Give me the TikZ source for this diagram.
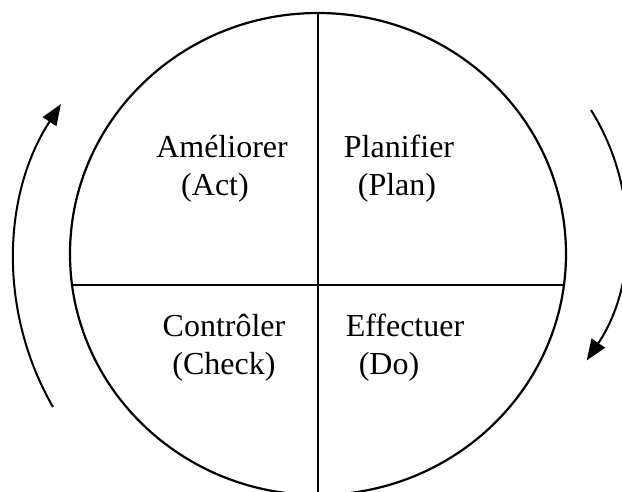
\documentclass[tikz,border=0pt]{standalone}
\usepackage{fontspec}
\setmainfont{Liberation Serif}
\usetikzlibrary{arrows.meta}
\tikzset{
  ring/.style={line width=2.2pt},
  divider/.style={line width=2pt},
  cyclearrow/.style={line width=2pt,-{Triangle[length=21pt,width=16pt]}},
  label/.style={anchor=base,inner sep=0pt,font=\fontsize{32}{38}\selectfont}
}
\begin{document}
\begin{tikzpicture}[x=1pt,y=-1pt]
\useasboundingbox (0,0) rectangle (622,491);
\clip (0,0) rectangle (622,491);
% circle and dividers
\draw[ring] (318,254) ellipse [x radius=248, y radius=241];
\coordinate (top) at (318,13);
\coordinate (bot) at (318,495);
\coordinate (hl) at (71.5,285);
\coordinate (hr) at (564.5,285);
\draw[divider] (top) -- (bot);
\draw[divider] (hl) -- (hr);
% labels
\node[label] (ame) at (222,157) {Améliorer};
\node[label] (act) at (215,195) {(Act)};
\node[label] (pla) at (399,157) {Planifier};
\node[label] (plan) at (397,195) {(Plan)};
\node[label] (con) at (224,336) {Contrôler};
\node[label] (chk) at (224,374) {(Check)};
\node[label] (eff) at (405,336) {Effectuer};
\node[label] (do) at (389,374) {(Do)};
% cycle arrows
\coordinate (la) at (53,407);
\coordinate (ra) at (591,110);
\draw[cyclearrow] (la) arc[start angle=150, end angle=213, radius=290];
\draw[cyclearrow] (ra) arc[start angle=-32, end angle=34, radius=230];
\end{tikzpicture}
\end{document}
